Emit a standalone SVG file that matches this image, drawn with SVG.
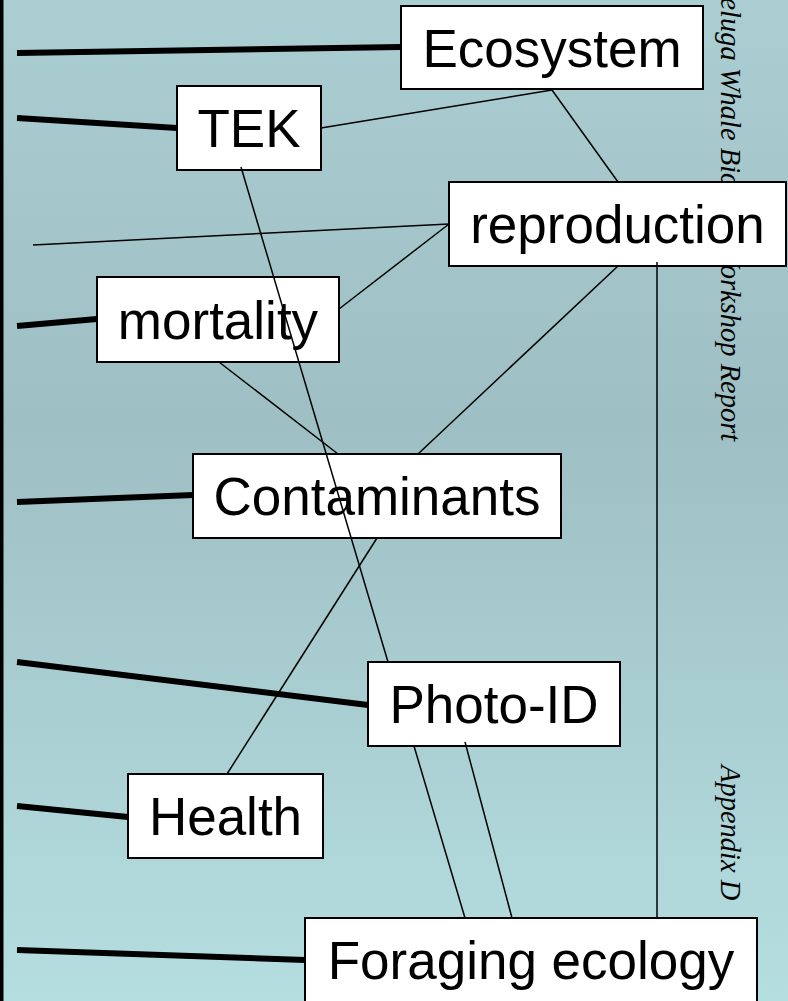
<svg xmlns="http://www.w3.org/2000/svg" width="788" height="1001" viewBox="0 0 788 1001">
  <defs>
    <linearGradient id="bg" x1="0" y1="0" x2="0" y2="1">
      <stop offset="0" stop-color="#abced2"/>
      <stop offset="0.42" stop-color="#9ebfc3"/>
      <stop offset="1" stop-color="#b5dee1"/>
    </linearGradient>
    <style>
      .box { fill: #ffffff; stroke: #000000; stroke-width: 2; }
      .label { font-family: "Liberation Sans", Arial, sans-serif; font-size: 53px; fill: #000000; text-anchor: middle; }
      .side { font-family: "Liberation Serif", "Times New Roman", serif; font-style: italic; font-size: 28.5px; fill: #000000; }
      .thick { stroke: #000000; stroke-width: 6; fill: none; }
      .thin { stroke: #000000; stroke-width: 1.5; fill: none; }
    </style>
  </defs>

  <!-- slide background and left rule -->
  <rect x="0" y="0" width="788" height="1001" fill="url(#bg)"/>
  <rect x="0" y="0" width="3.5" height="1001" fill="#000000"/>

  <!-- running header along the right margin -->
  <g id="margin-text">
    <text class="side" transform="translate(721,-20) rotate(90)">Beluga Whale Biology Workshop Report</text>
    <text class="side" transform="translate(721,765) rotate(90)">Appendix D</text>
  </g>

  <!-- topic boxes -->
  <g id="node-ecosystem">
    <rect class="box" x="401" y="6" width="302" height="83"/>
    <text class="label" x="552" y="66.5">Ecosystem</text>
  </g>
  <g id="node-tek">
    <rect class="box" x="177" y="86" width="144" height="84"/>
    <text class="label" x="249" y="147">TEK</text>
  </g>
  <g id="node-reproduction">
    <rect class="box" x="449" y="182" width="337" height="84"/>
    <text class="label" x="617.5" y="243">reproduction</text>
  </g>
  <g id="node-mortality">
    <rect class="box" x="97" y="277" width="242" height="85"/>
    <text class="label" x="218" y="338.5">mortality</text>
  </g>
  <g id="node-contaminants">
    <rect class="box" x="193" y="454" width="368" height="84"/>
    <text class="label" x="377" y="515">Contaminants</text>
  </g>
  <g id="node-photo-id">
    <rect class="box" x="368" y="662" width="252" height="84"/>
    <text class="label" x="494" y="723">Photo-ID</text>
  </g>
  <g id="node-health">
    <rect class="box" x="128" y="774" width="195" height="84"/>
    <text class="label" x="225.5" y="835">Health</text>
  </g>
  <g id="node-foraging">
    <rect class="box" x="305" y="918" width="452" height="86"/>
    <text class="label" x="531" y="979">Foraging ecology</text>
  </g>

  <!-- connectors -->
  <g id="connectors">
    <!-- heavy leaders from the left rule -->
    <line class="thick" x1="17" y1="53" x2="401" y2="47"/>
    <line class="thick" x1="17" y1="118" x2="177" y2="128"/>
    <line class="thick" x1="17" y1="326" x2="97" y2="319"/>
    <line class="thick" x1="17" y1="502" x2="193" y2="495"/>
    <line class="thick" x1="17" y1="662" x2="368" y2="705"/>
    <line class="thick" x1="17" y1="806" x2="128" y2="817"/>
    <line class="thick" x1="17" y1="950" x2="305" y2="960"/>
    <!-- links between topics -->
    <line class="thin" x1="33" y1="245" x2="449" y2="224"/>
    <line class="thin" x1="321" y1="128" x2="552" y2="90"/>
    <line class="thin" x1="552" y1="90" x2="618" y2="182"/>
    <line class="thin" x1="339" y1="309" x2="449" y2="224"/>
    <line class="thin" x1="219" y1="362" x2="338" y2="454"/>
    <line class="thin" x1="241" y1="167" x2="388" y2="662"/>
    <line class="thin" x1="618" y1="266" x2="418" y2="454"/>
    <line class="thin" x1="377" y1="538" x2="227" y2="774"/>
    <line class="thin" x1="414" y1="746" x2="465" y2="918"/>
    <line class="thin" x1="465" y1="742" x2="512" y2="918"/>
    <line class="thin" x1="657" y1="262" x2="657" y2="918"/>
  </g>
</svg>
